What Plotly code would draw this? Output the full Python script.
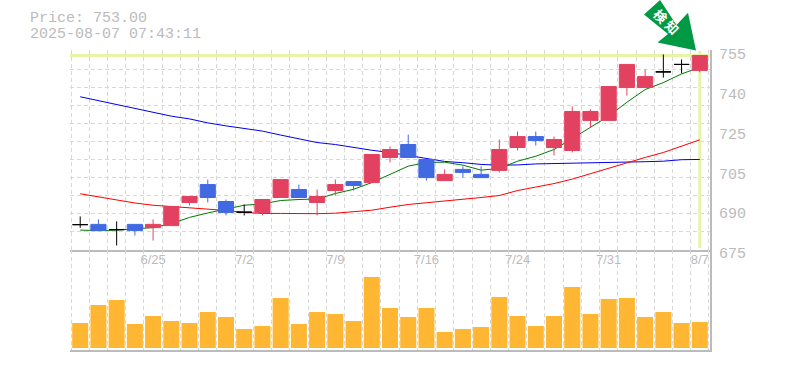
import plotly.graph_objects as go

dates = ["6/25", "7/2", "7/9", "7/16", "7/24", "7/31", "8/7"]
date_idx = [4, 9, 14, 19, 24, 29, 34]
price_ticks = [674.8, 690.8, 706.8, 722.8, 738.8, 754.8]
price_labels = ["675", "690", "705", "725", "740", "755"]

rising_idx = [4, 5, 6, 10, 11, 13, 14, 16, 17, 20, 23, 24, 26, 27, 28, 29, 30, 31, 34]
rising_open = [683.8, 684.6, 693.9, 689.9, 695.9, 693.9, 698.7, 701.9, 712.0, 702.7, 706.8, 716.0, 716.0, 714.8, 726.9, 726.9, 740.1, 740.1, 747.0]
rising_high = [687.1, 692.3, 696.3, 695.1, 703.1, 699.1, 703.1, 713.2, 716.4, 707.2, 719.2, 722.4, 720.4, 732.5, 731.3, 740.5, 749.4, 747.4, 753.0]
rising_low = [678.6, 684.6, 692.7, 688.7, 695.9, 688.7, 696.7, 701.9, 710.0, 702.7, 706.0, 714.8, 712.8, 714.0, 724.0, 726.9, 736.9, 740.1, 746.2]
rising_close = [685.1, 692.3, 696.3, 695.1, 703.1, 696.3, 701.1, 713.2, 715.2, 705.2, 715.2, 720.4, 719.2, 730.5, 730.5, 740.5, 749.4, 744.5, 753.0]

falling_idx = [1, 3, 7, 8, 12, 15, 18, 19, 21, 22, 25]
falling_open = [685.1, 685.1, 701.1, 694.3, 699.1, 702.3, 717.2, 711.2, 707.2, 705.2, 720.4]
falling_high = [687.1, 685.1, 703.1, 695.1, 701.1, 702.3, 721.2, 711.2, 708.4, 708.4, 722.4]
falling_low = [682.6, 680.6, 693.9, 688.7, 695.9, 698.7, 712.0, 702.7, 703.9, 703.9, 716.8]
falling_close = [682.6, 682.6, 695.9, 689.9, 695.9, 700.7, 712.0, 703.9, 706.0, 703.9, 718.8]

doji_idx = [0, 2, 9, 32, 33]
doji_price = [685.0, 683.0, 690.0, 746.4, 749.4]
doji_high = [688.3, 686.3, 693.1, 753.4, 751.4]
doji_low = [683.7, 676.6, 688.7, 744.1, 745.8]

ma_short = [682.8, 682.6, 682.8, 683.4, 683.8, 685.4, 687.9, 689.7, 691.3, 692.8, 693.3, 694.7,
            695.1, 695.3, 697.5, 699.2, 701.9, 705.2, 708.5, 710.0, 710.1, 708.9, 706.9, 707.6,
            710.5, 712.5, 715.2, 719.6, 724.0, 728.6, 734.2, 739.3, 742.1, 745.6, 748.2]
ma_mid = [697.4, 696.1, 694.8, 693.7, 692.8, 692.3, 691.8, 691.4, 690.7, 689.9, 689.5, 689.5,
          689.4, 689.4, 689.6, 690.2, 690.8, 692.0, 693.1, 693.8, 694.4, 695.1, 695.9, 696.7,
          698.7, 700.1, 701.5, 703.3, 705.5, 707.8, 710.0, 712.0, 714.0, 716.4, 719.1]
ma_long = [736.4, 734.9, 733.3, 731.7, 730.1, 728.6, 727.5, 725.9, 724.7, 723.6, 722.6, 721.0,
           719.5, 718.0, 717.2, 716.0, 714.9, 714.0, 712.8, 711.5, 710.4, 709.9, 709.2, 708.9,
           709.0, 709.4, 709.5, 709.7, 709.8, 709.9, 710.1, 710.3, 710.5, 711.1, 711.2]
volume = [25, 43, 48, 24, 32, 27, 25, 36, 31, 19, 22, 50, 24, 36, 34, 27, 71, 40,
          31, 40, 16, 19, 21, 51, 32, 22, 32, 61, 34, 49, 50, 31, 36, 25, 26]
last_price = 753.0
index = list(range(len(volume)))

GRID = "#d8d8d8"
AXIS = "#bbbbbb"
MARK = "#e5f5a5"
RED = "#e24260"
BLUE = "#4169e1"
W, H = 785, 370
L, R, T, B = 70, 710, 50, 350


def px(x):
    return (x - L) / (R - L)


def py(y):
    return (B - y) / (B - T)


fig = go.Figure()
fig.add_trace(go.Scatter(x=[index[0] - 0.56, index[-1] + 0.56], y=[last_price, last_price], mode="lines",
                         line=dict(color=MARK, width=3), hoverinfo="skip"))
fig.add_trace(go.Scatter(x=[index[-1], index[-1]], y=[675.6, 754.8], mode="lines",
                         line=dict(color=MARK, width=3), hoverinfo="skip"))
for series, color in ((ma_long, "#0000ee"), (ma_mid, "#ff0000"), (ma_short, "#007a00")):
    fig.add_trace(go.Scatter(x=index, y=series, mode="lines", line=dict(color=color, width=1), hoverinfo="skip"))


def candle(x, o, h, l, c, color):
    side = dict(line=dict(color=color, width=1), fillcolor=color)
    fig.add_trace(go.Candlestick(x=x, open=o, high=h, low=l, close=c, increasing=side, decreasing=side,
                                 xaxis="x3", yaxis="y"))


candle(rising_idx, rising_open, rising_high, rising_low, rising_close, RED)
candle(falling_idx, falling_open, falling_high, falling_low, falling_close, BLUE)
candle(doji_idx, doji_price, doji_high, doji_low, doji_price, "#000000")
fig.add_trace(go.Bar(x=index, y=volume, xaxis="x2", yaxis="y2", width=0.88, marker=dict(color="#ffb733", line_width=0)))

x_range = [-0.56, 34.56]
grid_x = dict(type="linear", tickmode="linear", tick0=-0.5, dtick=1, showgrid=True, gridcolor=GRID, griddash="4px,3px", gridwidth=1,
              showticklabels=False, ticks="", zeroline=False, automargin=False, showline=True, linecolor=AXIS,
              linewidth=2, range=x_range, rangeslider_visible=False)
fig.update_layout(
    width=W, height=H, margin=dict(l=L, r=W - R, t=T, b=H - B, pad=0, autoexpand=False), autosize=False,
    paper_bgcolor="white", plot_bgcolor="white", showlegend=False, boxmode="overlay", boxgap=0.17, boxgroupgap=0.0,
    font=dict(family="Liberation Mono", color=AXIS, size=15),
    xaxis=dict(domain=[0, 1], anchor="y", **grid_x),
    xaxis2=dict(domain=[0, 1], anchor="y2", **grid_x),
    xaxis3=dict(overlaying="x", anchor="y", range=x_range, rangeslider_visible=False, automargin=False,
                tickmode="array", tickvals=date_idx, ticktext=dates, showgrid=False, zeroline=False,
                showline=False, ticks="", ticklen=0, ticklabelstandoff=0,
                tickfont=dict(family="Liberation Sans", size=13, color=AXIS)),
    yaxis=dict(domain=[100 / 300, 1], anchor="x", side="right", range=[674.8, 755.2], automargin=False,
               tickmode="array", tickvals=price_ticks, ticktext=price_labels, showgrid=False, zeroline=False,
               showline=True, linecolor=AXIS, linewidth=2, ticks="", ticklabelstandoff=4,
               ticklabelshift=3,
               tickfont=dict(family="Liberation Mono", size=15, color=AXIS),
               minor=dict(tick0=674.8, dtick=80 / 11, showgrid=True, gridcolor=GRID, griddash="4px,3px", gridwidth=1, ticklen=0)),
    yaxis2=dict(domain=[0, 100 / 300], anchor="x2", side="right", range=[-2, 98], showticklabels=False, automargin=False,
                showgrid=False, zeroline=False, showline=True, linecolor=AXIS, linewidth=2, ticks=""),
    shapes=[dict(type="path", xref="paper", yref="paper", layer="above", fillcolor="#009944", line_width=0,
                 path="M {} {} L {} {} L {} {} L {} {} L {} {} L {} {} L {} {} Z".format(
                     px(660), py(0), px(644), py(14.5), px(668), py(34), px(657.5), py(42.5),
                     px(696), py(50.5), px(688), py(12.7), px(676.5), py(25)))],
    annotations=[
        dict(text="Price: 753.00", xref="paper", yref="paper", x=px(28), y=py(8.5), xanchor="left", yanchor="top",
             showarrow=False, font=dict(family="Liberation Mono", size=15, color=AXIS)),
        dict(text="2025-08-07 07:43:11", xref="paper", yref="paper", x=px(28), y=py(24), xanchor="left", yanchor="top",
             showarrow=False, font=dict(family="Liberation Mono", size=15, color=AXIS)),
        dict(text="<b>検 知</b>", xref="paper", yref="paper", x=px(666.5), y=py(21.5), xanchor="center", yanchor="middle",
             textangle=45, showarrow=False, font=dict(family="Noto Sans CJK JP", size=13, color="white")),
    ],
)
fig.write_html("out.html", post_script="document.body.style.margin='0';", config={"displayModeBar": False})
